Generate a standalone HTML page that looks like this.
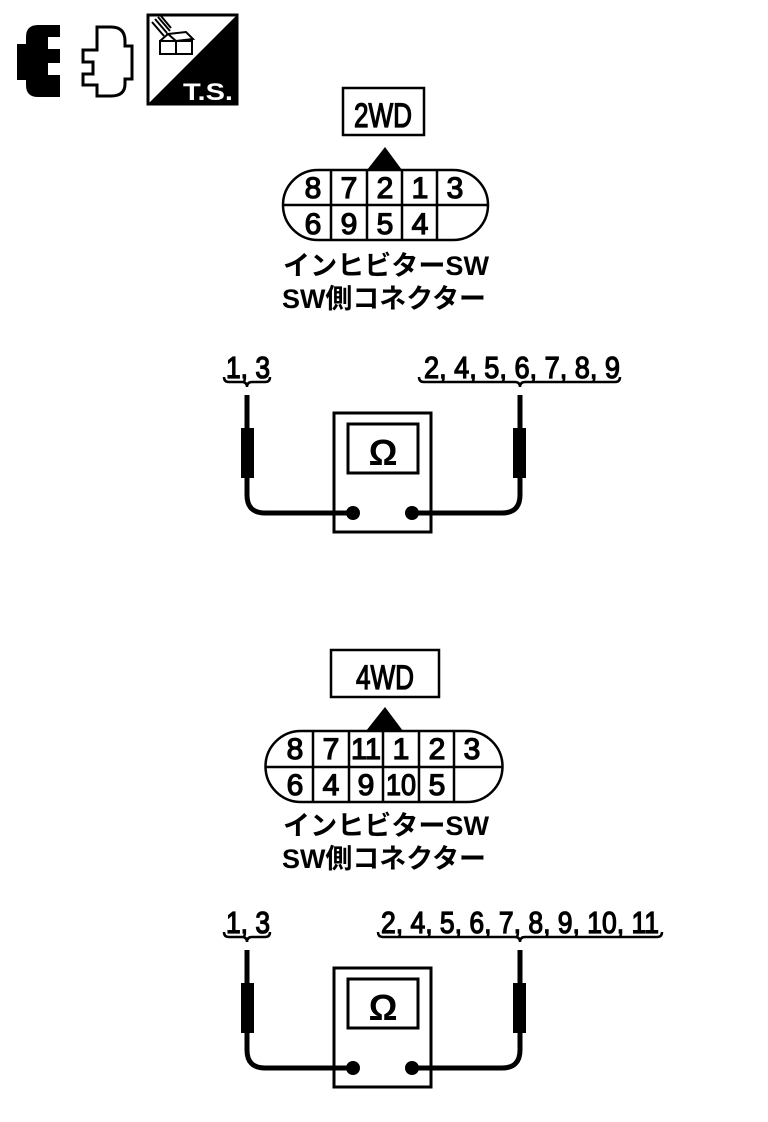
<!DOCTYPE html>
<html><head><meta charset="utf-8"><style>body{margin:0;background:#fff}svg{display:block}text{font-family:"Liberation Sans","Noto Sans CJK JP",sans-serif;fill:#000}.b{stroke:#000;stroke-width:1.3}</style></head><body>
<svg width="768" height="1122" viewBox="0 0 768 1122" xmlns="http://www.w3.org/2000/svg">
<path d="M38 25 h22 v12 h-12 v12 h12 v14 h-12 v12 h12 v22 h-22 q-12 0 -12 -12 v-5 h-9 v-36 h9 v-7 q0 -12 12 -12z" fill="#000"/>
<path d="M60 37 h-12 v12 h12z M60 63 h-12 v12 h12z" fill="#fff"/>
<path d="M97 27 h14 q14 0 14 14 v5 h7 v33 h-7 v5 q0 12 -14 12 h-14 v-11 h-14 v-11 h10 v-12 h-10 v-12 h14z" fill="none" stroke="#000" stroke-width="3"/>
<rect x="148" y="15" width="89" height="89" fill="#fff" stroke="#000" stroke-width="3"/>
<polygon points="148,104 237,15 237,104" fill="#000"/>
<text x="183" y="100" font-size="24" font-weight="bold" style="fill:#fff" textLength="50" lengthAdjust="spacingAndGlyphs">T.S.</text>
<g stroke="#000" stroke-width="2" fill="#fff"><path d="M168 34 l18 -2 l7 7 l-17 2z"/><rect x="160" y="41" width="16" height="13"/><rect x="176" y="41" width="16" height="13"/><path d="M160 41 l8 -7 M192 41 v13"/><path d="M152 22 l12 14 M155 19 l12 14 M158 17 l12 14 M161 16 l10 12"/></g>

<g fill="none" stroke="#000" stroke-width="2.5">
<rect x="343" y="88" width="81" height="47"/>
<path d="M318 170 H453 A35 35 0 0 1 453 240 H318 A35 35 0 0 1 318 170Z"/>
<path d="M284 205 H488 M331 170 V240 M367 170 V240 M402 170 V240 M437 170 V240"/>
<rect x="331" y="650" width="108" height="47"/>
<path d="M301 731 H467 A35.5 35.5 0 0 1 467 802 H301 A35.5 35.5 0 0 1 301 731Z"/>
<path d="M266 767 H502 M313 731 V802 M349 731 V802 M383 731 V802 M419 731 V802 M454 731 V802"/>
</g>
<polygon points="385,147 367,170 402,170" fill="#000"/>
<polygon points="385,707 366,731 403,731" fill="#000"/>
<g class="b">
<text x="383" y="127" font-size="34" text-anchor="middle" textLength="58" lengthAdjust="spacingAndGlyphs">2WD</text>
<text x="385" y="689" font-size="34" text-anchor="middle" textLength="58" lengthAdjust="spacingAndGlyphs">4WD</text>
<g font-size="30" text-anchor="middle">
<text x="313" y="198">8</text><text x="349" y="198">7</text><text x="385" y="198">2</text><text x="420" y="198">1</text><text x="455" y="198">3</text>
<text x="313" y="234">6</text><text x="349" y="234">9</text><text x="385" y="234">5</text><text x="420" y="234">4</text>
<text x="295" y="759">8</text><text x="331" y="759">7</text><text x="366" y="759" textLength="30" lengthAdjust="spacingAndGlyphs">11</text><text x="401" y="759">1</text><text x="437" y="759">2</text><text x="472" y="759">3</text>
<text x="295" y="795">6</text><text x="331" y="795">4</text><text x="366" y="795">9</text><text x="401" y="795" textLength="30" lengthAdjust="spacingAndGlyphs">10</text><text x="437" y="795">5</text>
</g>
<g font-size="31">
<text x="226" y="378" textLength="44" lengthAdjust="spacingAndGlyphs">1, 3</text>
<text x="424" y="378" textLength="196" lengthAdjust="spacingAndGlyphs">2, 4, 5, 6, 7, 8, 9</text>
<text x="226" y="933" textLength="44" lengthAdjust="spacingAndGlyphs">1, 3</text>
<text x="381" y="933" textLength="278" lengthAdjust="spacingAndGlyphs">2, 4, 5, 6, 7, 8, 9, 10, 11</text>
</g>
</g>
<g font-size="27" font-weight="bold" text-anchor="middle">
<text x="386" y="275" textLength="206" lengthAdjust="spacingAndGlyphs">インヒビターSW</text>
<text x="384" y="308" textLength="204" lengthAdjust="spacingAndGlyphs">SW側コネクター</text>
<text x="386" y="835" textLength="206" lengthAdjust="spacingAndGlyphs">インヒビターSW</text>
<text x="384" y="868" textLength="204" lengthAdjust="spacingAndGlyphs">SW側コネクター</text>
</g>
<g fill="none" stroke="#000" stroke-width="2.5">
<path d="M224 377 q0 5 5 5 h13 q5 0 5 5 q0 -5 5 -5 h13 q5 0 5 -5"/>
<path d="M419 377 q0 5 5 5 h91 q5 0 5 5 q0 -5 5 -5 h90 q5 0 5 -5"/>
<path d="M224 932 q0 5 5 5 h13 q5 0 5 5 q0 -5 5 -5 h13 q5 0 5 -5"/>
<path d="M378 932 q0 5 5 5 h132 q5 0 5 5 q0 -5 5 -5 h132 q5 0 5 -5"/>
</g>
<g id="m">
<rect x="334" y="413" width="97" height="119" fill="none" stroke="#000" stroke-width="3"/>
<rect x="348" y="424" width="70" height="49" fill="none" stroke="#000" stroke-width="3"/>
<text x="383" y="465" font-size="36" font-weight="bold" text-anchor="middle">Ω</text>
<path d="M247 395 V495 q0 18 18 18 H353 M412 513 H502 q18 0 18 -18 V395" fill="none" stroke="#000" stroke-width="5"/>
<rect x="241" y="428" width="13" height="50" fill="#000"/>
<rect x="513" y="428" width="13" height="50" fill="#000"/>
<circle cx="353" cy="513" r="7" fill="#000"/>
<circle cx="412" cy="513" r="7" fill="#000"/>
</g>
<use href="#m" y="555"/>
</svg>
</body></html>
